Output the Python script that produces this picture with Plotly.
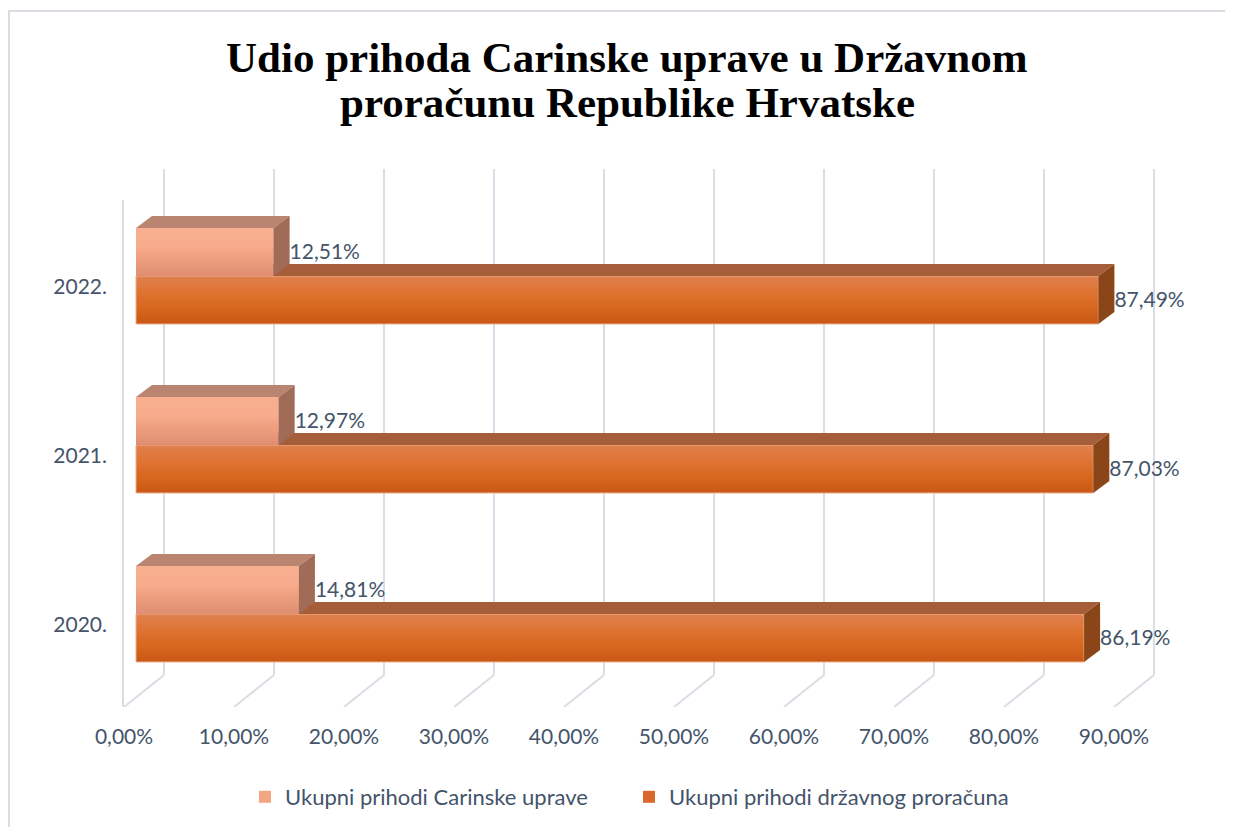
import plotly.graph_objects as go

# ---------------- data ----------------
years = ["2020.", "2021.", "2022."]
carinska = [0.1481, 0.1297, 0.1251]          # Ukupni prihodi Carinske uprave
proracun = [0.8619, 0.8703, 0.8749]          # Ukupni prihodi državnog proračuna
series_names = ["Ukupni prihodi Carinske uprave", "Ukupni prihodi državnog proračuna"]
x_tick_vals = [0.0, 0.1, 0.2, 0.3, 0.4, 0.5, 0.6, 0.7, 0.8, 0.9]
title_lines = ["Udio prihoda Carinske uprave u Državnom", "proračunu Republike Hrvatske"]

# ---------------- geometry / style ----------------
OFF = 8                     # default page body margin
W, H = 1233 - OFF, 827 - OFF
L, R, T, B = 112 - OFF, 1190 - OFF, 169 - OFF, 707 - OFF
PXX = 1100.0      # px per unit (fraction) on x
PXY = 169.0       # px per category on y
FRONT_X0, BAR_X0 = 124 - OFF, 136 - OFF
BACK_DX, BACK_DY = 40, 32
CAT0 = 625 - OFF  # px of first category centre (front plane)
BAR_H = 48 / PXY
DARK_OFF = -37 / PXY
LIGHT_OFF = DARK_OFF + BAR_H
DX, DY = 16 / PXX, 12 / PXY

x_front_range = [(L - FRONT_X0) / PXX, (R - FRONT_X0) / PXX]
x_bar_range = [(L - BAR_X0) / PXX, (R - BAR_X0) / PXX]
y_range = [(CAT0 - B) / PXY, (CAT0 - T) / PXY]
pw, ph = R - L, B - T


def px_x(p):
    return (p - OFF - L) / pw


def px_y(p):
    return (B - (p - OFF)) / ph


TXT = "#44546A"
FONT = "Lato"
GRID = "#DADDE5"

light = dict(front=[[0, "#E08E73"], [0.4, "#F0A081"], [0.6, "#F7AC8D"], [1, "#F7AF90"]],
             top="#B98571", side="#A06C58", solid="#F4A582")
dark = dict(front=[[0, "#C85815"], [0.35, "#D8671F"], [0.65, "#DE7332"], [1, "#E0814F"]],
            top="#A65E3A", side="#8A4618", solid="#D8692A")

fig = go.Figure()
cats = list(range(len(years)))


def fmt(v):
    return f"{v*100:.2f}%".replace(".", ",")


# data bars (also provide the legend)
fig.add_trace(go.Bar(y=cats, x=carinska, orientation="h", name=series_names[0],
                     width=BAR_H, offset=LIGHT_OFF, marker=dict(color=light["solid"], line=dict(width=0)),
                     xaxis="x2", yaxis="y", hoverinfo="skip"))
fig.add_trace(go.Bar(y=cats, x=proracun, orientation="h", name=series_names[1],
                     width=BAR_H, offset=DARK_OFF, marker=dict(color=dark["solid"], line=dict(width=0)),
                     xaxis="x2", yaxis="y", hoverinfo="skip"))


def add_box(c, v, off, style, front_line=None):
    yb = c + off
    yt = yb + BAR_H
    fig.add_trace(go.Scatter(x=[0, v, v, 0, 0], y=[yb, yb, yt, yt, yb], fill="toself", mode="lines",
                             line=dict(width=1 if front_line else 0, color=front_line or "rgba(0,0,0,0)"),
                             fillgradient=dict(type="vertical", colorscale=style["front"]),
                             xaxis="x2", yaxis="y", showlegend=False, hoverinfo="skip"))
    fig.add_trace(go.Scatter(x=[0, v, v + DX, DX, 0], y=[yt, yt, yt + DY, yt + DY, yt], fill="toself",
                             mode="lines", line=dict(width=0), fillcolor=style["top"],
                             xaxis="x2", yaxis="y", showlegend=False, hoverinfo="skip"))
    fig.add_trace(go.Scatter(x=[v, v + DX, v + DX, v, v], y=[yb, yb + DY, yt + DY, yt, yb], fill="toself",
                             mode="lines", line=dict(width=0), fillcolor=style["side"],
                             xaxis="x2", yaxis="y", showlegend=False, hoverinfo="skip"))


for c, v in zip(cats, proracun):
    add_box(c, v, DARK_OFF, dark, front_line="#EDB18E")
for c, v in zip(cats, carinska):
    add_box(c, v, LIGHT_OFF, light)

# data labels
for vals, off in ((carinska, LIGHT_OFF), (proracun, DARK_OFF)):
    fig.add_trace(go.Scatter(x=[v + DX for v in vals], y=[c + off + BAR_H / 2 - 2 / PXY for c in cats],
                             mode="text", text=[fmt(v) for v in vals], textposition="middle right",
                             textfont=dict(family=FONT, size=21, color=TXT), xaxis="x2", yaxis="y",
                             showlegend=False, hoverinfo="skip"))

# 3D grid (back wall + floor)
shapes = []
bx, by = BACK_DX / PXX, BACK_DY / PXY
y_floor_front = y_range[0]
y_floor_back = y_floor_front + by
for t in x_tick_vals:
    shapes.append(dict(type="line", xref="x", yref="y", x0=t + bx, x1=t + bx, y0=y_floor_back, y1=y_range[1],
                       line=dict(color=GRID, width=2), layer="below"))
    shapes.append(dict(type="line", xref="x", yref="y", x0=t + bx, x1=t, y0=y_floor_back, y1=y_floor_front,
                       line=dict(color=GRID, width=2), layer="below"))
shapes.append(dict(type="line", xref="x", yref="y", x0=-1 / PXX, x1=-1 / PXX, y0=y_floor_front,
                   y1=(CAT0 - (200 - OFF)) / PXY, line=dict(color=GRID, width=2), layer="below"))
# outer chart border
shapes.append(dict(type="rect", xref="paper", yref="paper",
                   x0=px_x(9), x1=px_x(1250), y0=px_y(850), y1=px_y(11),
                   line=dict(color="#D9DCE3", width=2), layer="below"))

# title as two lines
annotations = []
for line, yc in zip(title_lines, (57, 102)):
    annotations.append(dict(text=line, xref="paper", yref="paper", x=px_x(627), y=px_y(yc),
                            xanchor="center", yanchor="middle", showarrow=False,
                            font=dict(family="Liberation Serif", size=43, color="black", weight="bold")))

fig.update_layout(
    width=W, height=H,
    margin=dict(l=L, r=W - R, t=T, b=H - B, autoexpand=False),
    paper_bgcolor="white", plot_bgcolor="rgba(0,0,0,0)",
    separators=",.",
    barmode="overlay",
    shapes=shapes,
    annotations=annotations,
    xaxis=dict(range=x_front_range, tickvals=x_tick_vals, tickformat=".2%", showgrid=False, zeroline=False,
               showline=False, ticks="", tickfont=dict(family=FONT, size=21, color=TXT), ticklabelstandoff=15,
               fixedrange=True),
    xaxis2=dict(range=x_bar_range, overlaying="x", anchor="y", visible=False, fixedrange=True),
    yaxis=dict(range=y_range, tickvals=cats, ticktext=years, showgrid=False, zeroline=False, showline=False,
               ticks="", tickfont=dict(family=FONT, size=21, color=TXT), ticklabelstandoff=4, fixedrange=True),
    legend=dict(orientation="h", xref="container", yref="container", x=(245 - OFF) / W, xanchor="left",
                y=1 - (797 - OFF) / H, yanchor="middle", font=dict(family=FONT, size=22, color=TXT),
                itemsizing="constant", traceorder="normal", entrywidthmode="pixels", entrywidth=339),
    showlegend=True,
)

fig.write_html("out.html")
